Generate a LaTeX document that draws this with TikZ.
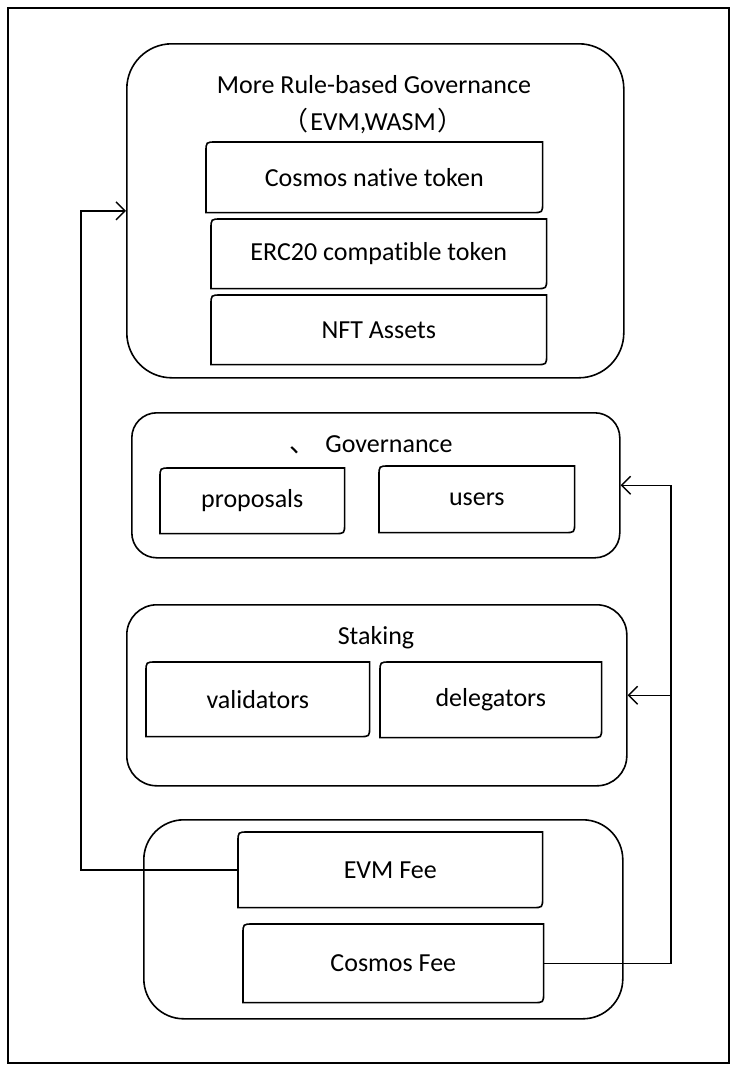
\documentclass[tikz,border=0pt]{standalone}
\usepackage{fontspec}
\setmainfont{Carlito}[Ligatures=NoCommon]
\newfontfamily\cjk{Noto Sans CJK SC}
\usetikzlibrary{arrows.meta,positioning}
\begin{document}
\begin{tikzpicture}[
  x=1pt, y=-1pt, line width=1.6pt,
  group/.style={draw, rounded corners=#1, anchor=north west, inner sep=0pt},
  card/.style={anchor=north west, inner sep=0pt, font=\fontsize{26}{30}\selectfont},
  title/.style={inner sep=0pt, font=\fontsize{26}{30}\selectfont},
  flow/.style={-{Straight Barb[length=9pt,width=18pt,line width=1.4pt]}, line width=1.4pt}
]
\useasboundingbox (0,0) rectangle (738,1072);
\draw[line width=2pt] (8,8) rectangle (729,1063);
% containers
\node[group=45pt, minimum width=497pt, minimum height=334pt] (rule) at (126,43) {};
\node[group=25pt, minimum width=488pt, minimum height=145pt] (gov) at (131,412) {};
\node[group=30pt, minimum width=500pt, minimum height=181pt] (stk) at (126,604) {};
\node[group=40pt, minimum width=479pt, minimum height=199pt] (fee) at (143,819) {};
% titles
\node[title] (ruleT) at (374,85) {More Rule-based Governance};
\node[title] (ruleS) at (373,121) {{\cjk （}\kern2pt EVM,WASM\kern2pt{\cjk ）}};
\node[title] (govT) at (389,444) {Governance};
\node[title] (govM) at (302,450) {\cjk 、};
\node[title] (stkT) at (376,638) {Staking};
% cards
\node[card, minimum width=335pt, minimum height=69pt] (cnt) at (206,142) {Cosmos native token};
\node[card, minimum width=334pt, minimum height=68pt] (erc) at (211,219) {ERC20 compatible token};
\node[card, minimum width=334pt, minimum height=68pt] (nft) at (211,295) {NFT Assets};
\node[card, minimum width=183pt, minimum height=64pt] (prop) at (160,468) {proposals};
\node[card, minimum width=194pt, minimum height=65pt] (usr) at (379,466) {users};
\node[card, minimum width=222pt, minimum height=73pt] (val) at (146,662) {validators};
\node[card, minimum width=220pt, minimum height=74pt] (del) at (380,662) {delegators};
\node[card, minimum width=303pt, minimum height=74pt] (evm) at (238,832) {EVM Fee};
\node[card, minimum width=299pt, minimum height=77pt] (cfee) at (243,924) {Cosmos Fee};
\foreach \n in {cnt,erc,nft,prop,usr,val,del,evm,cfee}
  \draw (\n.south west) -- ([yshift=-10pt]\n.north west)
    .. controls (\n.north west) .. ([xshift=10pt]\n.north west) -- (\n.north east)
    -- ([yshift=10pt]\n.south east)
    .. controls (\n.south east) .. ([xshift=-10pt]\n.south east) -- cycle;
% fee flows
\coordinate (lft) at (81,0);
\coordinate (rgt) at (671,0);
\draw[flow] (evm.west) -- (evm.west -| lft) |- (rule.west);
\draw[flow] (cfee.east) -- (cfee.east -| rgt) |- (gov.east);
\draw[flow] (stk.east -| rgt) -- (stk.east);
\end{tikzpicture}
\end{document}
